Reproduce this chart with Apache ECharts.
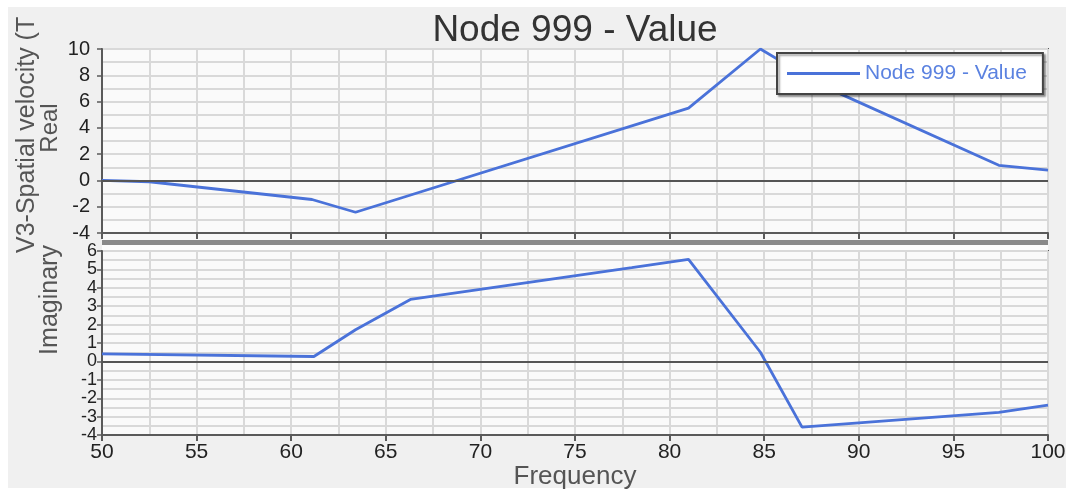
<!DOCTYPE html>
<html><head><meta charset="utf-8">
<script src="https://cdn.jsdelivr.net/npm/echarts@6/dist/echarts.min.js"></script>
<style>
html,body{margin:0;padding:0;background:#fff;}
#wrap{position:relative;width:1069px;height:491px;background:#fff;overflow:hidden;}
#bg{position:absolute;left:8px;top:7px;width:1058px;height:481px;background:#f0f0f0;}
#chart{position:absolute;left:0;top:0;width:1069px;height:491px;}
</style></head><body>
<div id="wrap"><div id="bg"></div><div id="chart"></div></div>
<script>
const titleText = 'Node 999 - Value';
const seriesName = 'Node 999 - Value';
const xLabel = 'Frequency';
const yLabel = 'V3-Spatial velocity (T';
const realLabel = 'Real';
const imagLabel = 'Imaginary';
const realFreq = [50, 52.5, 61.1, 63.4, 81.0, 84.8, 88.0, 97.4, 100];
const realVal  = [0, -0.1, -1.45, -2.42, 5.5, 10, 7.25, 1.15, 0.78];
const imagFreq = [50, 61.2, 63.4, 66.3, 78, 81, 84.8, 87, 97.4, 100];
const imagVal  = [0.41, 0.27, 1.72, 3.37, 5.1, 5.55, 0.5, -3.57, -2.76, -2.37];

const FONT = '"Liberation Sans", Arial, sans-serif';
const LINE = '#4a72d9';
const GRIDC = '#d9d9d9';
const AX = '#5a5a5a';

const realData = realFreq.map((f, i) => [f, realVal[i]]);
const imagData = imagFreq.map((f, i) => [f, imagVal[i]]);

function xAxis(idx, showLabel) {
  return {
    type: 'value', gridIndex: idx, min: 50, max: 100, interval: 5,
    axisLine: { show: true, onZero: false, lineStyle: { color: AX, width: 2 } },
    axisTick: { show: true, length: 6, lineStyle: { color: AX, width: 2 } },
    axisLabel: { show: showLabel, fontSize: 21, color: '#222', fontFamily: FONT, margin: 7 },
    splitLine: { show: true, lineStyle: { color: GRIDC, width: 2 } },
    minorTick: { show: true, splitNumber: 2, length: 0 },
    minorSplitLine: { show: true, lineStyle: { color: GRIDC, width: 2 } },
    name: showLabel ? xLabel : '',
    nameLocation: 'middle', nameGap: 28,
    nameTextStyle: { fontSize: 26, color: '#555', fontFamily: FONT }
  };
}
function yAxis(idx, min, max, interval, fs, margin) {
  return {
    type: 'value', gridIndex: idx, min: min, max: max, interval: interval,
    axisLine: { show: true, onZero: false, lineStyle: { color: AX, width: 2 } },
    axisTick: { show: true, length: 5, lineStyle: { color: AX, width: 1.5 } },
    axisLabel: { fontSize: fs, color: '#222', fontFamily: FONT, margin: margin },
    splitLine: { show: true, lineStyle: { color: GRIDC, width: 2 } },
    minorTick: { show: true, splitNumber: 2, length: 0 },
    minorSplitLine: { show: true, lineStyle: { color: GRIDC, width: 2 } }
  };
}
const zeroLine = {
  silent: true, symbol: 'none', label: { show: false },
  lineStyle: { color: '#555', width: 2, type: 'solid' },
  emphasis: { disabled: true },
  data: [{ yAxis: 0 }]
};

const chart = echarts.init(document.getElementById('chart'), null, { renderer: 'canvas' });
chart.setOption({
  backgroundColor: 'transparent',
  animation: false,
  title: {
    text: titleText, left: 570, textAlign: 'center', top: 7,
    textStyle: { fontSize: 37, fontWeight: 'normal', color: '#333', fontFamily: FONT }
  },
  legend: {
    data: [seriesName], left: 777, top: 53, icon: 'rect', itemWidth: 73, itemHeight: 3,
    padding: [10, 16, 10, 10], backgroundColor: '#ffffff', borderColor: '#444', borderWidth: 2,
    shadowColor: 'rgba(0,0,0,0.35)', shadowBlur: 2, shadowOffsetX: 2, shadowOffsetY: 2,
    textStyle: { fontSize: 21, color: '#5b82e0', fontFamily: FONT }
  },
  grid: [
    { left: 102, right: 21, top: 49, height: 184, show: true, backgroundColor: '#fafafa', borderColor: AX, borderWidth: 2 },
    { left: 102, right: 21, top: 251, height: 186, show: true, backgroundColor: '#fafafa', borderColor: AX, borderWidth: 2 }
  ],
  xAxis: [xAxis(0, false), xAxis(1, true)],
  yAxis: [yAxis(0, -4, 10, 2, 20, 12), yAxis(1, -4, 6, 1, 18, 5)],
  graphic: [
    { type: 'rect', z: -5, shape: { x: 102, y: 233, width: 946, height: 7 }, style: { fill: '#f8f8f8' } },
    { type: 'rect', shape: { x: 102, y: 240, width: 946, height: 5 }, style: { fill: '#8a8a8a' } },
    { type: 'rect', shape: { x: 102, y: 245, width: 946, height: 5 }, style: { fill: '#fdfdfd' } },
    { type: 'text', x: 27, y: 253, rotation: Math.PI / 2,
      style: { text: yLabel, fontSize: 25, fontFamily: FONT, fill: '#555', align: 'left', verticalAlign: 'middle' } },
    { type: 'text', x: 50, y: 128, rotation: Math.PI / 2,
      style: { text: realLabel, fontSize: 24, fontFamily: FONT, fill: '#555', align: 'center', verticalAlign: 'middle' } },
    { type: 'text', x: 50, y: 300, rotation: Math.PI / 2,
      style: { text: imagLabel, fontSize: 25, fontFamily: FONT, fill: '#555', align: 'center', verticalAlign: 'middle' } }
  ],
  series: [
    { name: seriesName, type: 'line', xAxisIndex: 0, yAxisIndex: 0, data: realData,
      showSymbol: false, symbol: 'none', lineStyle: { color: LINE, width: 2.8 }, itemStyle: { color: LINE },
      markLine: zeroLine, z: 3 },
    { name: seriesName, type: 'line', xAxisIndex: 1, yAxisIndex: 1, data: imagData,
      showSymbol: false, symbol: 'none', lineStyle: { color: LINE, width: 2.8 }, itemStyle: { color: LINE },
      markLine: zeroLine, z: 3 }
  ]
});
</script>
</body></html>
